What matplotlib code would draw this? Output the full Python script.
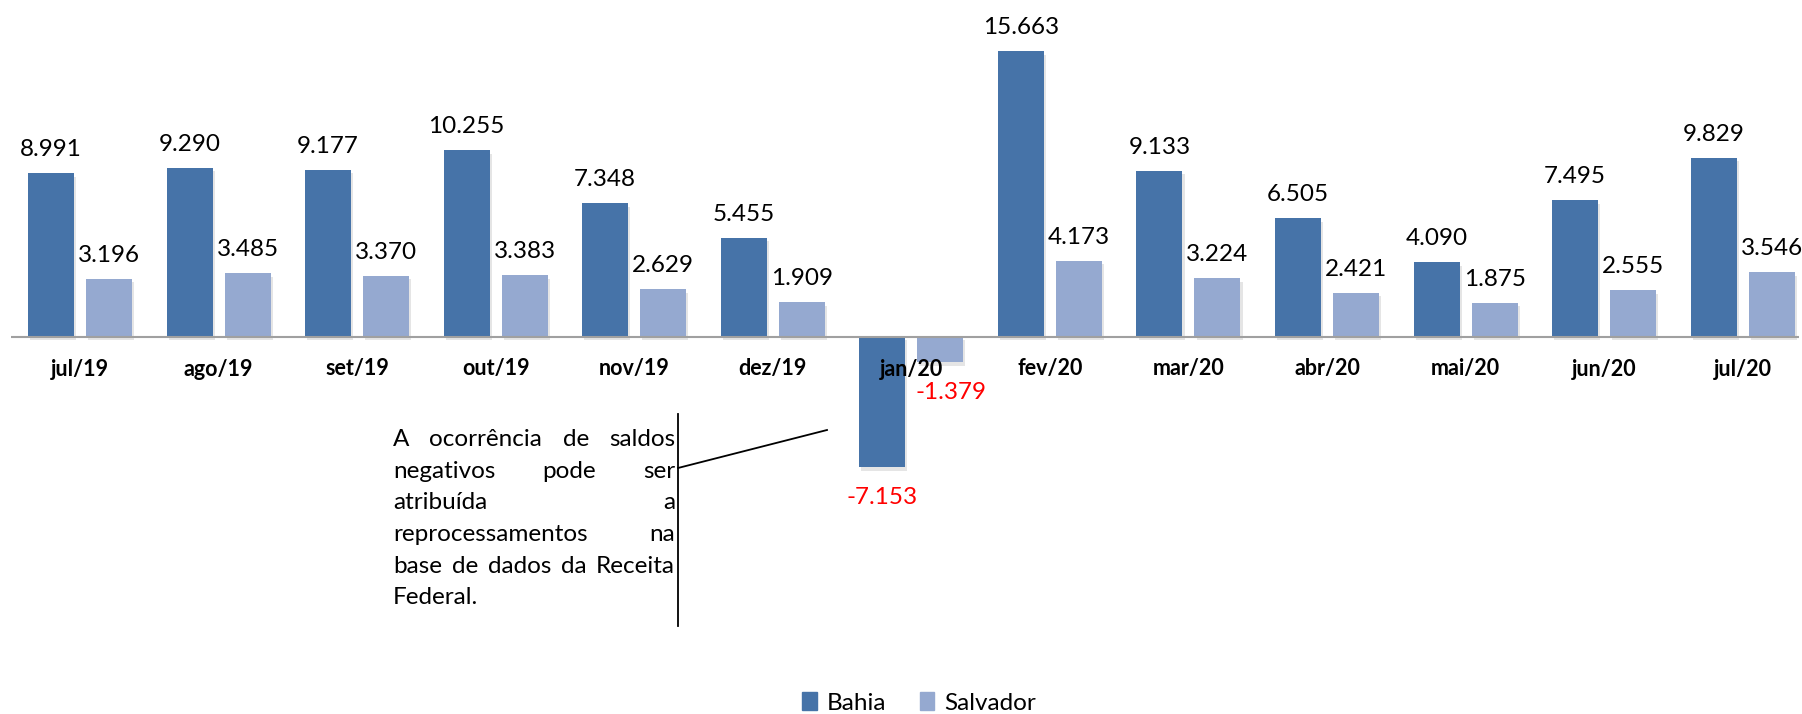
import matplotlib
matplotlib.use("Agg")
import matplotlib.pyplot as plt
import matplotlib.patheffects as pe
from matplotlib.patches import Patch
import numpy as np

plt.rcParams['font.family'] = ['Lato', 'DejaVu Sans']

# dados
meses = ["jul/19", "ago/19", "set/19", "out/19", "nov/19", "dez/19", "jan/20",
         "fev/20", "mar/20", "abr/20", "mai/20", "jun/20", "jul/20"]
bahia = [8991, 9290, 9177, 10255, 7348, 5455, -7153, 15663, 9133, 6505, 4090, 7495, 9829]
salvador = [3196, 3485, 3370, 3383, 2629, 1909, -1379, 4173, 3224, 2421, 1875, 2555, 3546]

cor_bahia = "#4673A8"
cor_salvador = "#95A9D0"

W, H = 1802, 714
fig = plt.figure(figsize=(W / 100, H / 100), dpi=100)

# eixo ocupando a figura toda, escala ajustada ao original
k = 0.01823          # pixels por unidade
base_y = 337         # linha do zero (px a partir do topo)
left_px, right_px, slot = 10.7, 1799, 138.56
ax = fig.add_axes([left_px / W, 0, (right_px - left_px) / W, 1])
ax.set_xlim(-0.5, (right_px - left_px) / slot - 0.5)
ax.set_ylim(-(H - base_y) / k, base_y / k)
ax.axis("off")

x = np.arange(len(meses))
larg = 46 / slot
desl = 29 / slot
sombra = [pe.SimplePatchShadow(offset=(1.5, -2.5), shadow_rgbFace="#999999", alpha=0.25), pe.Normal()]

b1 = ax.bar(x - desl, bahia, larg, color=cor_bahia, path_effects=sombra, zorder=2)
b2 = ax.bar(x + desl, salvador, larg, color=cor_salvador, path_effects=sombra, zorder=2)
ax.axhline(0, color="#a0a0a0", lw=1.5, zorder=3)


def fmt(v):
    return f"{v:,}".replace(",", ".")


for serie, pos in ((bahia, x - desl), (salvador, x + desl)):
    for xi, v in zip(pos, serie):
        if v >= 0:
            ax.annotate(fmt(v), (xi, v), xytext=(0, 17), textcoords="offset pixels",
                        ha="center", va="baseline", fontsize=17.5, color="black")
        else:
            dx = 11 if serie is salvador else 0
            ax.annotate(fmt(v), (xi, v), xytext=(dx, -20), textcoords="offset pixels",
                        ha="center", va="top", fontsize=17.5, color="red", zorder=4)

# rotulos das categorias
for xi, m in zip(x, meses):
    ax.text(xi, -32 / k, m, ha="center", va="center", fontsize=15.5, fontweight="bold", zorder=4)


# nota com texto justificado
def fx(px):
    return px / W


def fy(py):
    return 1 - py / H


linhas = ["A ocorrência de saldos", "negativos pode ser", "atribuída a",
          "reprocessamentos na", "base de dados da Receita", "Federal."]
txt_esq, txt_dir = 393, 675
renderer = fig.canvas.get_renderer()
for i, linha in enumerate(linhas):
    yb = 446 + 31.7 * i
    palavras = linha.split()
    objs = [fig.text(0, fy(yb), p, fontsize=17.5, va="baseline") for p in palavras]
    larguras = [o.get_window_extent(renderer).width for o in objs]
    if i == len(linhas) - 1 or len(palavras) == 1:
        espaco = 5
    else:
        espaco = (txt_dir - txt_esq - sum(larguras)) / (len(palavras) - 1)
    xp = txt_esq
    for o, w in zip(objs, larguras):
        o.set_x(fx(xp))
        xp += w + espaco

fig.add_artist(plt.Line2D([fx(678), fx(678)], [fy(414), fy(626)], color="black", lw=1.3))
fig.add_artist(plt.Line2D([fx(678), fx(827)], [fy(468), fy(430)], color="black", lw=1.3))

# legenda
fig.legend(handles=[Patch(color=cor_bahia, label="Bahia"), Patch(color=cor_salvador, label="Salvador")],
           loc="center", bbox_to_anchor=(fx(919), fy(703)), ncol=2, frameon=False,
           fontsize=17.5, handlelength=0.6, handleheight=0.7, handletextpad=0.4, columnspacing=1.4)

fig.savefig("out.png", dpi=100)
